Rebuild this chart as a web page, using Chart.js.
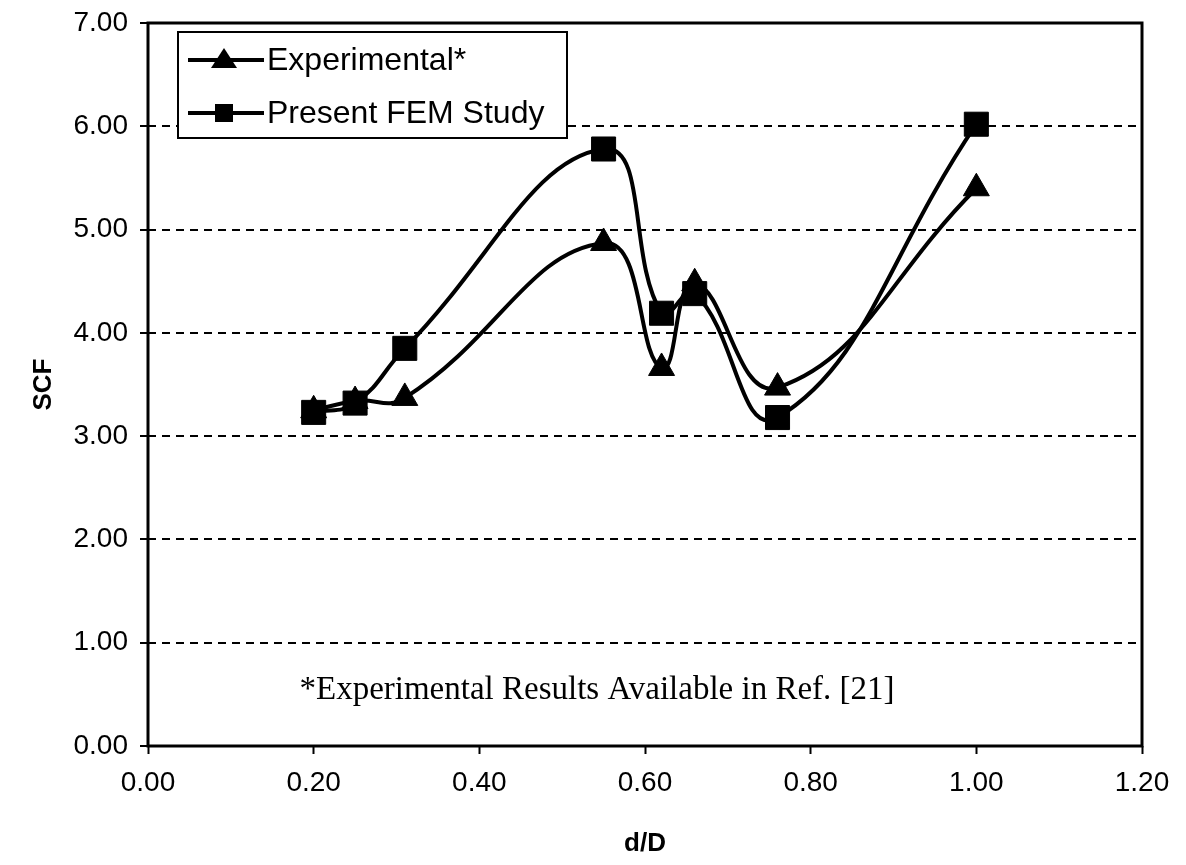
<!DOCTYPE html>
<html lang="en">
<head>
<meta charset="UTF-8">
<title>SCF x d/D</title>
<script src="https://cdn.jsdelivr.net/npm/chart.js"></script>
<style>
  body { margin: 0; background: #fff; }
  #grafico { display: block; }
</style>
</head>
<body>
<canvas id="grafico" width="1186" height="865"></canvas>
<script>
// d/D values and SCF for both series
const razaoDD = [0.20, 0.25, 0.31, 0.55, 0.62, 0.66, 0.76, 1.00];
const scfExperimental = [3.25, 3.34, 3.37, 4.87, 3.66, 4.48, 3.47, 5.40];
const scfFEM = [3.23, 3.32, 3.85, 5.78, 4.19, 4.38, 3.18, 6.02];
const nomesSeries = ['Experimental*', 'Present FEM Study'];
const tituloX = 'd/D';
const tituloY = 'SCF';
const nota = '*Experimental Results Available in Ref. [21]';

const fonteSans = '"Liberation Sans", Arial, sans-serif';
const fonteSerif = '"Liberation Serif", "Times New Roman", serif';

function pontos(valores) {
  return razaoDD.map((x, i) => ({ x: x, y: valores[i] }));
}

// frame around the plot area, legend box and the note
const extras = {
  id: 'extras',
  afterDatasetsDraw(chart) {
    const ctx = chart.ctx;
    const a = chart.chartArea;
    ctx.save();
    ctx.strokeStyle = '#000';
    ctx.lineWidth = 3;
    ctx.strokeRect(a.left, a.top, a.right - a.left, a.bottom - a.top);

    // legend
    const lx = 178, ly = 32, lw = 389, lh = 106;
    ctx.fillStyle = '#fff';
    ctx.fillRect(lx, ly, lw, lh);
    ctx.lineWidth = 2;
    ctx.strokeRect(lx, ly, lw, lh);
    const linhas = [60, 113];
    ctx.font = '32px ' + fonteSans;
    ctx.textBaseline = 'middle';
    ctx.textAlign = 'left';
    linhas.forEach((y, i) => {
      ctx.strokeStyle = '#000';
      ctx.lineWidth = 4;
      ctx.beginPath();
      ctx.moveTo(188, y);
      ctx.lineTo(264, y);
      ctx.stroke();
      ctx.fillStyle = '#000';
      ctx.beginPath();
      if (i === 0) {
        ctx.moveTo(224, y - 12);
        ctx.lineTo(237, y + 8);
        ctx.lineTo(211, y + 8);
        ctx.closePath();
      } else {
        ctx.rect(215, y - 9, 18, 18);
      }
      ctx.fill();
      ctx.fillText(nomesSeries[i], 267, y + 1);
    });

    // note
    ctx.font = '33px ' + fonteSerif;
    ctx.textAlign = 'center';
    ctx.fillText(nota, 597, 690);
    ctx.restore();
  }
};

new Chart(document.getElementById('grafico'), {
  type: 'line',
  data: {
    datasets: [{
      label: nomesSeries[0],
      data: pontos(scfExperimental),
      borderColor: '#000',
      backgroundColor: '#000',
      borderWidth: 4,
      pointStyle: 'triangle',
      pointRadius: 15,
      pointBorderWidth: 1,
      pointBackgroundColor: '#000',
      tension: 0.45
    }, {
      label: nomesSeries[1],
      data: pontos(scfFEM),
      borderColor: '#000',
      backgroundColor: '#000',
      borderWidth: 4,
      pointStyle: 'rect',
      pointRadius: 17,
      pointBorderWidth: 1,
      pointBackgroundColor: '#000',
      tension: 0.45
    }]
  },
  options: {
    responsive: false,
    animation: false,
    layout: { padding: { top: 23, right: 44, left: 0, bottom: 0 } },
    plugins: { legend: { display: false }, tooltip: { enabled: false } },
    scales: {
      x: {
        type: 'linear',
        min: 0,
        max: 1.2,
        afterFit: s => { s.height = 119; },
        ticks: {
          stepSize: 0.2,
          color: '#000',
          padding: 12,
          font: { family: fonteSans, size: 28 },
          callback: v => v.toFixed(2)
        },
        grid: { drawOnChartArea: false, drawTicks: true, tickLength: 8, tickWidth: 2, tickColor: '#000' },
        border: { display: false },
        title: {
          display: true,
          text: tituloX,
          color: '#000',
          font: { family: fonteSans, size: 26, weight: 'bold' },
          padding: { top: 0, bottom: 6 }
        }
      },
      y: {
        min: 0,
        max: 7,
        afterFit: s => {
          s.width = 148;
          s.paddingTop = 0;
          s.paddingBottom = 0;
        },
        ticks: {
          stepSize: 1,
          color: '#000',
          padding: 12,
          font: { family: fonteSans, size: 28 },
          callback: v => v.toFixed(2)
        },
        grid: {
          color: c => (c.tick && c.tick.value > 0 && c.tick.value < 7) ? '#000' : 'rgba(0,0,0,0)',
          lineWidth: 2,
          tickLength: 8,
          tickWidth: 2,
          tickColor: '#000'
        },
        border: { display: false, dash: [8, 6] },
        title: {
          display: true,
          text: tituloY,
          color: '#000',
          font: { family: fonteSans, size: 26, weight: 'bold' },
          padding: { top: 28, bottom: 0 }
        }
      }
    }
  },
  plugins: [extras]
});
</script>
</body>
</html>
